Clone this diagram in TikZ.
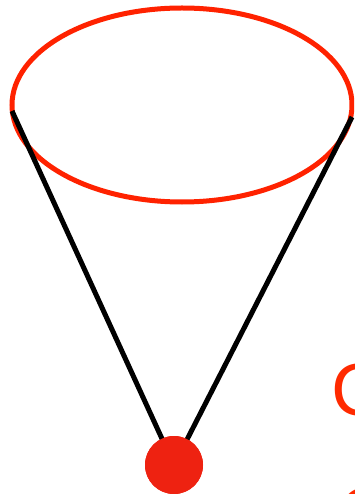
\documentclass[tikz,border=0pt]{standalone}
\usepackage{fontspec}
\setmainfont{Liberation Sans}
\usepackage{xcolor}
\usetikzlibrary{positioning, shapes.geometric, calc}

\definecolor{rimred}{HTML}{FF2200}
\definecolor{bobred}{HTML}{EE2211}
\definecolor{lblred}{HTML}{FF2A00}

\begin{document}
\begin{tikzpicture}[x=1pt, y=-1pt,
    rim/.style={ellipse, draw=rimred, line width=5pt, minimum width=340pt, minimum height=194pt, inner sep=0pt},
    bob/.style={circle, fill=bobred, minimum size=58pt, inner sep=0pt},
    string/.style={draw=black, line width=5pt},
    lbl/.style={text=lblred, font=\fontsize{74}{88}\selectfont, inner sep=0pt, anchor=base west}
]
\useasboundingbox (0,0) rectangle (354,494);
\clip (0,0) rectangle (354,494);

\node[rim] (cone) at (182,105) {};
\coordinate (lefttop) at (12,111);
\coordinate (righttop) at (352,117);
\node[bob] (mass) at (174,465) {};

\draw[string] (lefttop) -- (mass.center);
\draw[string] (righttop) -- (mass.center);
\node[bob] at (mass) {};

\node[lbl] (first) at (331,415) {C};
\node[lbl] (second) at (338,539) {C};
\end{tikzpicture}
\end{document}
